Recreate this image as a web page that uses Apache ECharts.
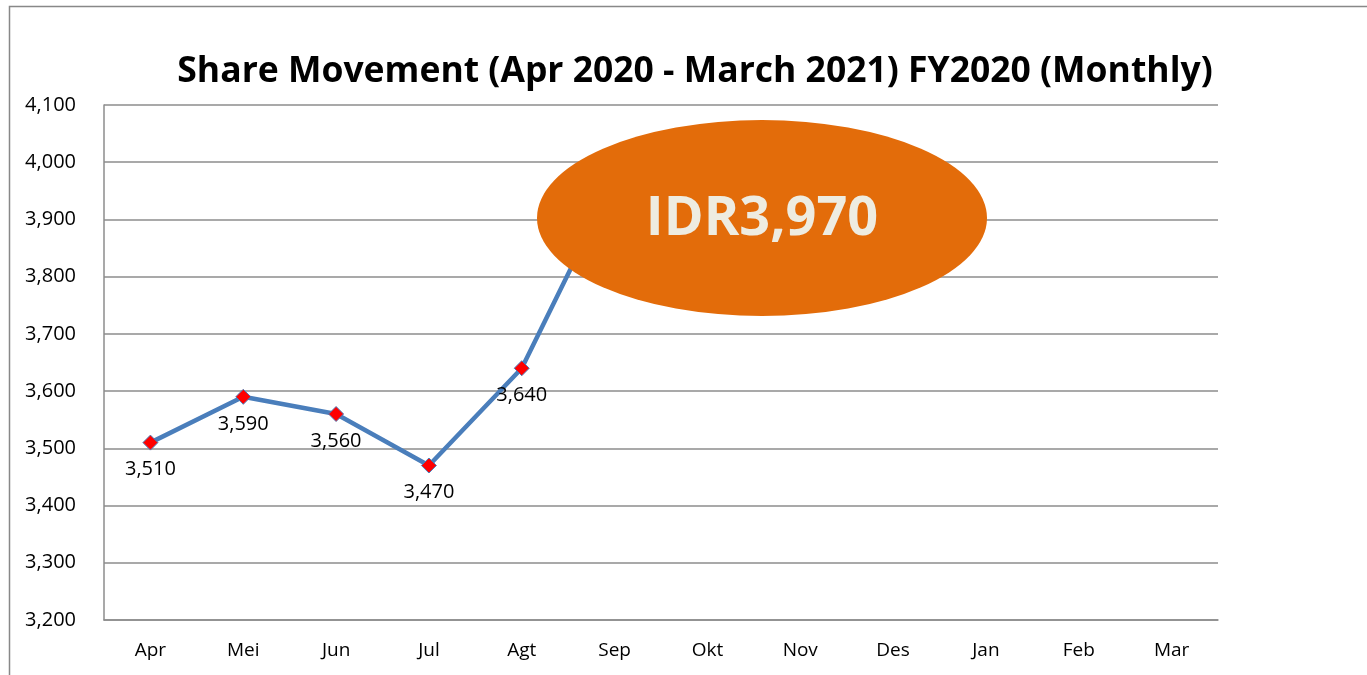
<!DOCTYPE html>
<html>
<head>
<meta charset="utf-8">
<script src="https://cdn.jsdelivr.net/npm/echarts@6/dist/echarts.min.js"></script>
<style>
  html, body { margin: 0; padding: 0; background: #fff; }
  #main { width: 1367px; height: 675px; }
</style>
</head>
<body>
<div id="main"></div>
<script>
// data
var months = ['Apr', 'Mei', 'Jun', 'Jul', 'Agt', 'Sep', 'Okt', 'Nov', 'Des', 'Jan', 'Feb', 'Mar'];
var prices = [3510, 3590, 3560, 3470, 3640, 3970, null, null, null, null, null, null];
var calloutText = 'IDR3,970';

var myChart = echarts.init(document.getElementById('main'));

var option = {
  backgroundColor: '#fff',
  title: {
    text: 'Share Movement (Apr 2020 - March 2021) FY2020 (Monthly)',
    left: 690,
    textAlign: 'center',
    top: 49,
    textStyle: {
      fontFamily: 'Open Sans',
      fontWeight: 'bold',
      fontSize: 35.5,
      color: '#000'
    }
  },
  grid: {
    left: 104,
    right: 149,
    top: 105,
    bottom: 55
  },
  xAxis: {
    type: 'category',
    data: months,
    boundaryGap: true,
    axisLine: { lineStyle: { color: '#8c8c8c', width: 1.5 } },
    axisTick: { show: false },
    axisLabel: { color: '#000', fontSize: 19, fontFamily: 'Open Sans', margin: 21 }
  },
  yAxis: {
    type: 'value',
    min: 3200,
    max: 4100,
    interval: 100,
    axisLine: { show: true, lineStyle: { color: '#8c8c8c', width: 1.5 } },
    axisTick: { show: false },
    splitLine: { lineStyle: { color: '#8c8c8c', width: 1.5 } },
    axisLabel: {
      color: '#000',
      fontSize: 20,
      fontFamily: 'Open Sans',
      margin: 28,
      formatter: function (v) { return v.toLocaleString('en-US'); }
    }
  },
  series: [
    {
      name: 'Share',
      type: 'line',
      data: prices,
      connectNulls: false,
      symbol: 'diamond',
      symbolSize: 15,
      lineStyle: { color: '#4a7ebb', width: 4.5 },
      itemStyle: { color: '#ff0000', borderColor: '#4a7ebb', borderWidth: 1 },
      label: {
        show: true,
        position: 'bottom',
        distance: 9,
        color: '#000',
        fontSize: 20,
        fontFamily: 'Open Sans',
        formatter: function (p) { return p.value.toLocaleString('en-US'); }
      },
      z: 2
    }
  ],
  graphic: [
    {
      type: 'rect',
      shape: { x: 9.5, y: 6.5, width: 1500, height: 800 },
      style: { fill: 'none', stroke: '#888', lineWidth: 1.5 },
      silent: true
    },
    {
      type: 'circle',
      x: 762,
      y: 218,
      shape: { cx: 0, cy: 0, r: 98 },
      scaleX: 225 / 98,
      style: { fill: '#e36c0a' },
      z: 100,
      zlevel: 1
    },
    {
      type: 'text',
      x: 762,
      y: 220,
      z: 101,
      zlevel: 1,
      style: {
        text: calloutText,
        align: 'center',
        verticalAlign: 'middle',
        fill: '#eeece1',
        fontSize: 54,
        fontWeight: 'bold',
        fontFamily: 'Open Sans'
      }
    }
  ]
};

myChart.setOption(option);
</script>
</body>
</html>
